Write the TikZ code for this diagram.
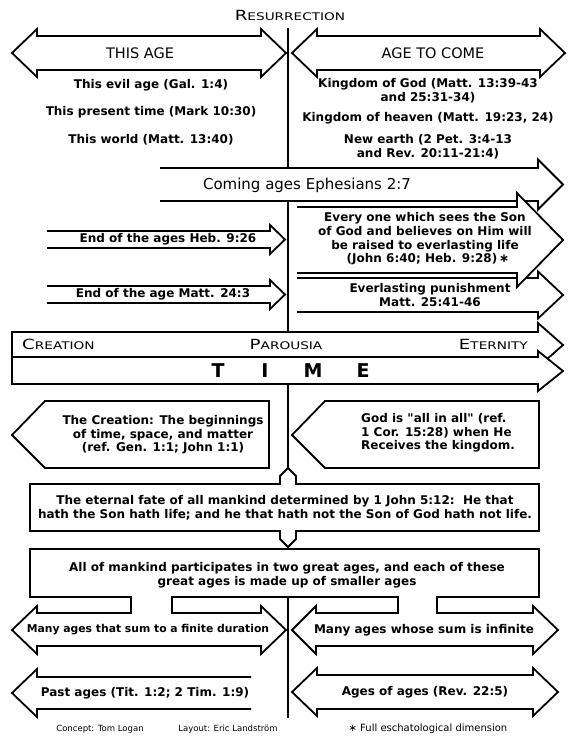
\documentclass[tikz,border=0pt]{standalone}
\usepackage{fontspec}
\setmainfont{DejaVu Sans}[Ligatures=TeXOff]
\newfontfamily\capsfont[FakeStretch=1.3]{DejaVu Sans}
\usepackage{tikz}
\usetikzlibrary{calc}

% wide caps: big first letter, smaller rest
\newcommand{\capword}[2]{{\capsfont\fontsize{14}{14}\selectfont #1\fontsize{10.5}{10.5}\selectfont #2}}

% double arrow: left tip x, right tip x, centre y
\newcommand{\twoway}[3]{%
  \draw[outline] (#1,#3) -- ({#1+25},{#3-24}) -- ({#1+25},{#3-17}) -- ({#2-25},{#3-17}) -- ({#2-25},{#3-24}) -- (#2,#3)
    -- ({#2-25},{#3+24}) -- ({#2-25},{#3+17}) -- ({#1+25},{#3+17}) -- ({#1+25},{#3+24}) -- cycle;}

% right arrow, open at the left: start x, tip x, centre y, shaft half, head half, head length
\newcommand{\openarrow}[6]{%
  \draw[outline] (#1,{#3-#4}) -- ({#2-#6},{#3-#4}) -- ({#2-#6},{#3-#5}) -- (#2,#3)
    -- ({#2-#6},{#3+#5}) -- ({#2-#6},{#3+#4}) -- (#1,{#3+#4});}

\tikzset{
  outline/.style={draw=black, fill=white, line width=1.8pt, line join=miter},
  spine/.style={line width=2.6pt},
  bodytext/.style={font=\bfseries\fontsize{12}{13.6}\selectfont, align=center, inner sep=0pt},
  headtext/.style={font=\fontsize{14.5}{16}\selectfont, inner sep=0pt},
  captext/.style={inner sep=0pt, anchor=base},
  timetext/.style={font=\bfseries\fontsize{19}{19}\selectfont, inner sep=0pt},
  foottext/.style={font=\fontsize{8.5}{9}\selectfont, inner sep=0pt}
}

\begin{document}
\begin{tikzpicture}[x=1pt, y=-1pt]
  \fill[white] (0,0) rectangle (576,756);
  \useasboundingbox (0,0) rectangle (576,756);

  % Title and the resurrection line
  \node[captext] (resurrection) at (290,20) {\capword{R}{ESURRECTION}};
  \coordinate (spinetop) at (288,28);
  \coordinate (spinebottom) at (288,718);
  \draw[spine] (spinetop) -- (spinebottom);

  % The two ages
  \twoway{12}{286}{53}
  \twoway{292}{565}{53}
  \node[headtext] (thisage) at (140,53) {THIS AGE};
  \node[headtext] (agetocome) at (433,53) {AGE TO COME};

  \node[bodytext] (evilage) at (151,85) {This evil age (Gal. 1:4)};
  \node[bodytext] (presenttime) at (151,112) {This present time (Mark 10:30)};
  \node[bodytext] (thisworld) at (151,140) {This world (Matt. 13:40)};

  \node[bodytext] (kingdomgod) at (428,91) {Kingdom of God (Matt. 13:39-43\\and 25:31-34)};
  \node[bodytext] (kingdomheaven) at (428,118) {Kingdom of heaven (Matt. 19:23, 24)};
  \node[bodytext] (newearth) at (428,147) {New earth (2 Pet. 3:4-13\\and Rev. 20:11-21:4)};

  % Coming ages
  \openarrow{160}{563}{184.5}{16.5}{25}{25}
  \node[bodytext, font=\fontsize{15}{16}\selectfont] (comingages) at (307,185) {Coming ages Ephesians 2:7};

  % Ends of the ages
  \openarrow{47}{285}{239.5}{8.5}{14.5}{15}
  \openarrow{47}{285}{294.5}{8.5}{14.5}{15}
  \node[bodytext] (endages) at (168,239.5) {End of the ages Heb. 9:26};
  \node[bodytext] (endage) at (163,294.5) {End of the age Matt. 24:3};

  % Life and punishment
  \openarrow{297}{563}{295}{17}{23.5}{25}
  \openarrow{297}{563}{240}{33}{47}{46}
  \node[bodytext] (everyone) at (425,239) {Every one which sees the Son\\of God and believes on Him will\\be raised to everlasting life\\\hspace*{6pt}(John 6:40; Heb. 9:28)\,∗};
  \node[bodytext] (punishment) at (430,295) {Everlasting punishment\\Matt. 25:41-46};

  % Creation -- Parousia -- Eternity, and TIME
  \draw[outline] (12,332) -- (538,332) -- (538,323) -- (563,345) -- (538,367) -- (538,357) -- (12,357) -- cycle;
  \draw[outline] (12,357) -- (538,357) -- (538,351) -- (563,371) -- (538,391) -- (538,384) -- (12,384) -- cycle;
  \node[captext, anchor=base west] (creation) at (22,349) {\capword{C}{REATION}};
  \node[captext] (parousia) at (286,349) {\capword{P}{AROUSIA}};
  \node[captext, anchor=base east] (eternity) at (528,349) {\capword{E}{TERNITY}};
  \foreach \l/\x in {T/218,I/265,M/313,E/363}
    \node[timetext] (time\l) at (\x,371) {\l};

  % Beginning and end
  \draw[outline] (12,435) -- (45,401) -- (269,401) -- (269,468) -- (45,468) -- cycle;
  \draw[outline] (292,435) -- (325,401) -- (539,401) -- (539,468) -- (325,468) -- cycle;
  \node[bodytext] (thecreation) at (163,435) {The Creation: The beginnings\\of time, space, and matter\\(ref. Gen. 1:1; John 1:1)};
  \node[bodytext, align=left, anchor=west] (allinall) at (361,433) {God is "all in all" (ref.\\1 Cor. 15:28) when He\\Receives the kingdom.};

  % Eternal fate
  \draw[outline] (30,484) -- (280,484) -- (280,476) -- (288,468) -- (296,476) -- (296,484) -- (539,484) -- (539,531)
    -- (296,531) -- (296,539) -- (288,547) -- (280,539) -- (280,531) -- (30,531) -- cycle;
  \node[bodytext] (fate) at (285,507.5) {The eternal fate of all mankind determined by 1 John 5:12:\ \ He that\\hath the Son hath life; and he that hath not the Son of God hath not life.};

  % Two great ages made of smaller ages
  \draw[outline] (30,549) -- (539,549) -- (539,597) -- (437,597) -- (437,613) -- (533,613) -- (533,606) -- (558,630)
    -- (533,654) -- (533,646) -- (316,646) -- (316,654) -- (292,630) -- (316,606) -- (316,613) -- (398,613)
    -- (398,597) -- (172,597) -- (172,613) -- (261,613) -- (261,606) -- (286,630) -- (261,654) -- (261,646)
    -- (37,646) -- (37,654) -- (12,630) -- (37,606) -- (37,613) -- (131,613) -- (131,597) -- (30,597) -- cycle;
  \node[bodytext] (greatages) at (287,575) {All of mankind participates in two great ages, and each of these\\great ages is made up of smaller ages};
  \node[bodytext, font=\bfseries\fontsize{10.8}{13}\selectfont] (finite) at (148,630) {Many ages that sum to a finite duration};
  \node[bodytext] (infinite) at (424,630) {Many ages whose sum is infinite};

  % Past ages and ages of ages
  \draw[outline] (251,677) -- (37,677) -- (37,669) -- (12,693) -- (37,717) -- (37,709) -- (251,709);
  \twoway{292}{558}{692}
  \node[bodytext] (pastages) at (145,693) {Past ages (Tit. 1:2; 2 Tim. 1:9)};
  \node[bodytext] (agesofages) at (425,692) {Ages of ages (Rev. 22:5)};

  % Credits
  \node[foottext] (concept) at (100,729) {Concept: Tom Logan};
  \node[foottext] (layout) at (228,729) {Layout: Eric Landström};
  \node[foottext, font=\fontsize{10}{11}\selectfont] (footnote) at (428,729) {∗ Full eschatological dimension};
\end{tikzpicture}
\end{document}
